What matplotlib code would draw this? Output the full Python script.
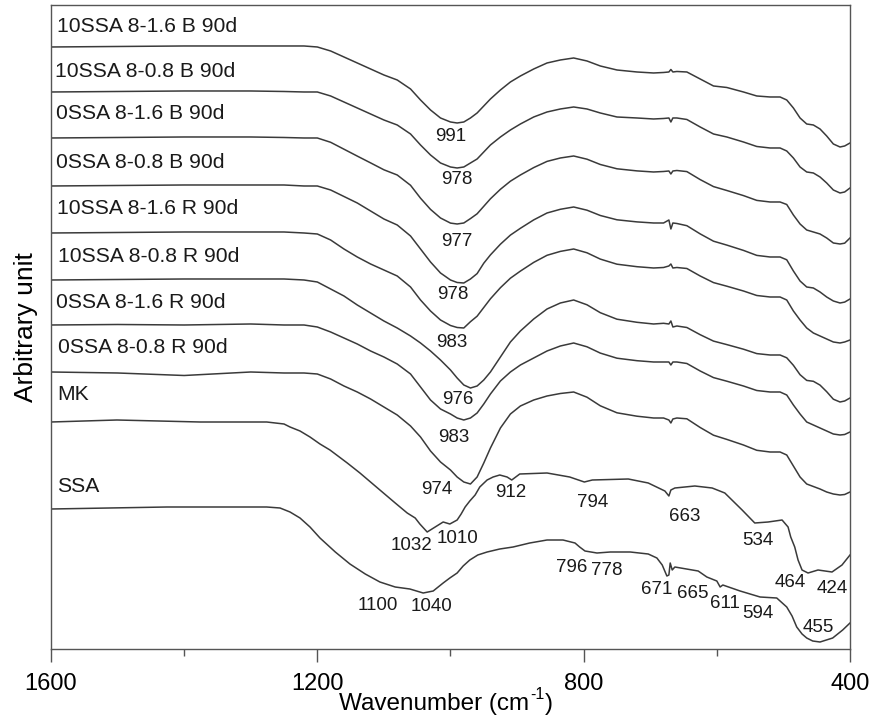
import matplotlib
matplotlib.use("Agg")
import matplotlib.pyplot as plt
from matplotlib.ticker import FixedLocator

plt.rcParams['font.family'] = ['Liberation Sans', 'DejaVu Sans']

# Wavenumber grid shared by the eight 90-day geopolymer spectra (cm-1)
wn_gp = [1600, 1500, 1400, 1300, 1250, 1220, 1200, 1180, 1160, 1140, 1120, 1100,
         1080, 1060, 1045, 1030, 1015, 1000, 990, 980, 970, 960, 950, 940, 925,
         910, 895, 875, 855, 835, 815, 795, 775, 750, 720, 695, 680, 672, 669,
         666, 660, 645, 625, 605, 585, 560, 540, 520, 505, 495, 485, 475, 465,
         455, 445, 435, 425, 415, 408, 400]

# Stacked spectra (arbitrary units, already offset)
gp_10ssa_16_b = [602, 602.5, 603, 603, 603, 603, 602, 598, 592, 586, 580, 574,
                 569, 560, 549, 539, 531, 527, 526, 527, 531, 536, 543, 550, 559,
                 567, 573, 580, 586, 589, 591, 588, 583, 579, 577, 576, 576.5, 577, 579.5,
                 577, 577.5, 577, 570, 563, 561.5, 557, 553, 552, 552, 549, 541, 531, 525,
                 524, 520, 513, 505, 502, 503, 506]
gp_10ssa_08_b = [557, 557.5, 558, 558, 557.5, 557, 557, 553, 547, 541, 535, 529,
                 524, 515, 504, 494, 486, 482, 481, 482, 486, 490, 497, 504, 512,
                 519, 525, 532, 537, 540, 542, 540, 536, 532, 531, 530, 530.5, 531, 527,
                 531, 531, 529.5, 522, 515, 512, 507, 502.5, 501, 501, 498, 491, 482, 477,
                 476, 472, 466, 459, 456, 457, 461]
gp_0ssa_16_b = [511, 511.5, 512, 512, 511.5, 511, 511, 506.7, 499.8, 492.9, 486.1, 479.2,
                474, 463.7, 450.8, 439.6, 431, 425.9, 425, 426, 430.4, 435.2, 442.7, 450.2, 459.7,
                467.8, 474, 481.4, 487.6, 491, 493, 489.8, 484.5, 480.2, 478.1, 477, 477.5, 478, 475,
                478, 478.5, 477.4, 469.4, 462.4, 458.5, 453.4, 448.6, 447, 447, 444.5, 434, 425, 419,
                417, 415, 411, 406, 405, 405.8, 411]
gp_0ssa_08_b = [463, 463.5, 464, 464, 464, 463, 463, 459, 452.5, 446, 438, 430,
                424, 413, 400, 387, 376, 369, 366.5, 366, 370, 375.4, 385.8, 394.1, 404.8,
                413.9, 420.7, 429.1, 436, 439.7, 442, 438.8, 433.5, 429.2, 427.1, 426, 426, 429, 420,
                426, 425.5, 423.3, 415.1, 407.8, 403.9, 398.6, 393.6, 392, 392, 389.2, 378, 368, 362,
                361, 357, 352, 348, 346, 346.9, 350]
gp_10ssa_16_r = [416, 416.5, 417, 417, 417, 416, 415, 409, 400, 392, 385, 379,
                 373, 362, 349, 338, 329, 323.5, 321.5, 321, 327.3, 332.8, 341.5, 350.2, 361.3,
                 370.8, 377.9, 386.6, 393.7, 397.6, 400, 396.2, 389.9, 384.8, 382.3, 381, 381.5, 383, 385,
                 381, 381.5, 380.5, 373, 366.4, 362.8, 358, 353.5, 352, 352, 349, 338, 329, 321,
                 316, 313, 310, 307, 306, 307, 309]
gp_10ssa_08_r = [369, 369.5, 370, 370, 370, 369, 367, 360, 353, 344, 336, 328,
                 321, 313, 306, 298, 289, 279, 271, 264, 261, 263, 269, 277, 292,
                 307, 318, 330, 340, 346, 349, 344.2, 336.3, 329.8, 326.7, 325, 325.7, 325, 328,
                 322, 323, 321.5, 314.3, 307.9, 304.4, 299.8, 295.4, 294, 294, 291.2, 283.7, 274.3, 268.6,
                 267.7, 263.9, 257.3, 249.8, 247, 248, 251]
gp_0ssa_16_r = [324, 324.5, 324, 325, 324, 324, 322, 317, 311, 305, 298, 292,
                285, 275, 262, 249, 240, 235, 231, 229, 231, 236, 245, 255, 268,
                277, 284, 291, 298, 303, 306, 302.2, 295.9, 290.8, 288.3, 287, 287, 287, 284,
                287, 287, 285.5, 278, 271.4, 267.8, 263, 258.5, 257, 257, 254, 244, 235, 227,
                224, 221, 218, 215, 214, 214.5, 217]
gp_0ssa_08_r = [277, 276, 273.5, 277, 276, 276, 275, 270, 263, 257, 250, 242,
                234, 223, 212, 198, 187, 179, 172, 167, 165, 172, 186, 201, 221,
                235, 243, 249, 253, 255.5, 257, 251.8, 243.2, 236.2, 232.8, 231, 231, 229, 226,
                230, 231, 230.2, 221.5, 213.8, 209.6, 204, 198.7, 197, 197, 194, 183, 172, 165,
                162.5, 160, 157, 155, 154, 154.5, 157]

# Metakaolin
wn_mk = [1600, 1501, 1376, 1276, 1250, 1241, 1226, 1211, 1196, 1181, 1155, 1136,
         1106, 1083, 1065, 1053, 1046, 1035, 1023, 1011, 1001, 990, 984, 978, 971,
         963, 956, 945, 936, 926, 915, 908, 896, 855, 821, 799, 787, 733, 703, 678,
         672, 669, 663, 633, 607, 588, 562, 543, 523, 502, 493, 489, 483, 478, 472,
         463, 448, 427, 412, 400]
mk = [227, 229, 227, 227, 225, 222, 218, 212, 205, 199, 186, 176,
      159, 146, 136, 131, 125, 117, 122, 127, 125, 129, 135, 142, 148,
      154, 162, 169, 172, 174, 172, 169, 175, 176, 172, 167, 169, 170, 166, 158,
      153, 159, 161, 163, 161, 156, 139, 126, 127, 129, 122, 112, 102, 89, 79,
      76, 79, 77, 84, 94]

# Sewage sludge ash
wn_ssa = [1600, 1426, 1276, 1256, 1241, 1226, 1211, 1196, 1173, 1151, 1128, 1106,
          1083, 1061, 1041, 1026, 1011, 1001, 990, 981, 971, 959, 945, 926, 906,
          881, 855, 831, 813, 806, 798, 780, 760, 730, 703, 690, 682, 675, 672, 670,
          667, 663, 628, 615, 600, 595, 591, 565, 535, 510, 495, 487, 480, 472, 465,
          456, 445, 426, 411, 400]
ssa = [140, 142, 142, 141, 137, 131, 122, 111, 97, 85, 75, 67,
       62, 60, 56, 58, 66, 71, 76, 83, 89, 94, 97, 100, 102,
       106, 109, 109, 106, 102, 98, 96, 97, 97, 95, 91, 84, 73, 74, 86,
       79, 82, 78, 72, 68, 62, 64, 58, 52, 51, 42, 33, 22, 15, 11,
       8, 7, 11, 19, 26]

series_names = ["10SSA 8-1.6 B 90d", "10SSA 8-0.8 B 90d", "0SSA 8-1.6 B 90d",
                "0SSA 8-0.8 B 90d", "10SSA 8-1.6 R 90d", "10SSA 8-0.8 R 90d",
                "0SSA 8-1.6 R 90d", "0SSA 8-0.8 R 90d", "MK", "SSA"]

# Band positions marked on the spectra (cm-1)
band_labels = ["991", "978", "977", "978", "983", "976", "983", "974",
               "1032", "1010", "912", "794", "663", "534", "464", "424",
               "1100", "1040", "796", "778", "671", "665", "611", "594", "455"]

x_ticks = [1600, 1200, 800, 400]
x_minor = [1400, 1000, 600]

fig = plt.figure(figsize=(8.7, 7.22), dpi=100)
ax = fig.add_axes([0.0586, 0.1011, 0.9184, 0.8920])

line_kw = dict(color="#3a3a3a", lw=1.1, solid_joinstyle="round")
gp_series = [gp_10ssa_16_b, gp_10ssa_08_b, gp_0ssa_16_b, gp_0ssa_08_b,
             gp_10ssa_16_r, gp_10ssa_08_r, gp_0ssa_16_r, gp_0ssa_08_r]
for s in gp_series:
    ax.plot(wn_gp, s, **line_kw)
ax.plot(wn_mk, mk, **line_kw)
ax.plot(wn_ssa, ssa, **line_kw)

# Sample names, left aligned above each trace
name_pos = [(1591, 622), (1594, 577), (1592.5, 535), (1592.5, 486), (1591, 440),
            (1589.5, 392), (1592.5, 346), (1589.5, 301), (1591, 254), (1591, 162)]
for name, (xp, yp) in zip(series_names, name_pos):
    ax.text(xp, yp, name, fontsize=15.2, ha="left", va="center", color="#1a1a1a")

band_pos = [(999, 512), (990, 469), (990, 407), (996, 354), (998, 306), (989, 249),
            (995, 211), (1020, 159), (1058, 104), (990, 111), (909, 156), (787, 147),
            (648, 133), (538, 109), (490, 67), (427, 61), (1109, 44), (1028, 43),
            (818, 82), (765, 79), (690, 60), (636, 56), (588, 46), (538, 36), (448, 22)]
for lab, (xp, yp) in zip(band_labels, band_pos):
    ax.text(xp, yp, lab, fontsize=13.5, ha="center", va="center", color="#1a1a1a")

ax.set_xlim(1600, 400)
ax.set_ylim(0, 644)
ax.xaxis.set_major_locator(FixedLocator(x_ticks))
ax.xaxis.set_minor_locator(FixedLocator(x_minor))
ax.set_yticks([])
ax.tick_params(axis="x", which="major", direction="out", length=9, width=1.0,
               color="#555555", labelsize=17, pad=8)
ax.tick_params(axis="x", which="minor", direction="out", length=5, width=1.0,
               color="#555555")
for sp in ax.spines.values():
    sp.set_color("#555555")
    sp.set_linewidth(1.0)

ax.set_ylabel("Arbitrary unit", fontsize=19, labelpad=9)

# x-axis title assembled from pieces so the superscript keeps a plain hyphen
W, H = fig.bbox.width, fig.bbox.height
base_y = 12.0 / H
t_main = fig.text(339.0 / W, base_y, "Wavenumber (cm", fontsize=17.5,
                  ha="left", va="baseline")
renderer = fig.canvas.get_renderer()
bb = t_main.get_window_extent(renderer)
t_sup = fig.text((bb.x1 + 1.0) / W, base_y + 11.0 / H, "-1", fontsize=11.5,
                 ha="left", va="baseline")
bb2 = t_sup.get_window_extent(renderer)
fig.text((bb2.x1 + 1.0) / W, base_y, ")", fontsize=17.5, ha="left", va="baseline")

fig.savefig("out.png", dpi=100)
